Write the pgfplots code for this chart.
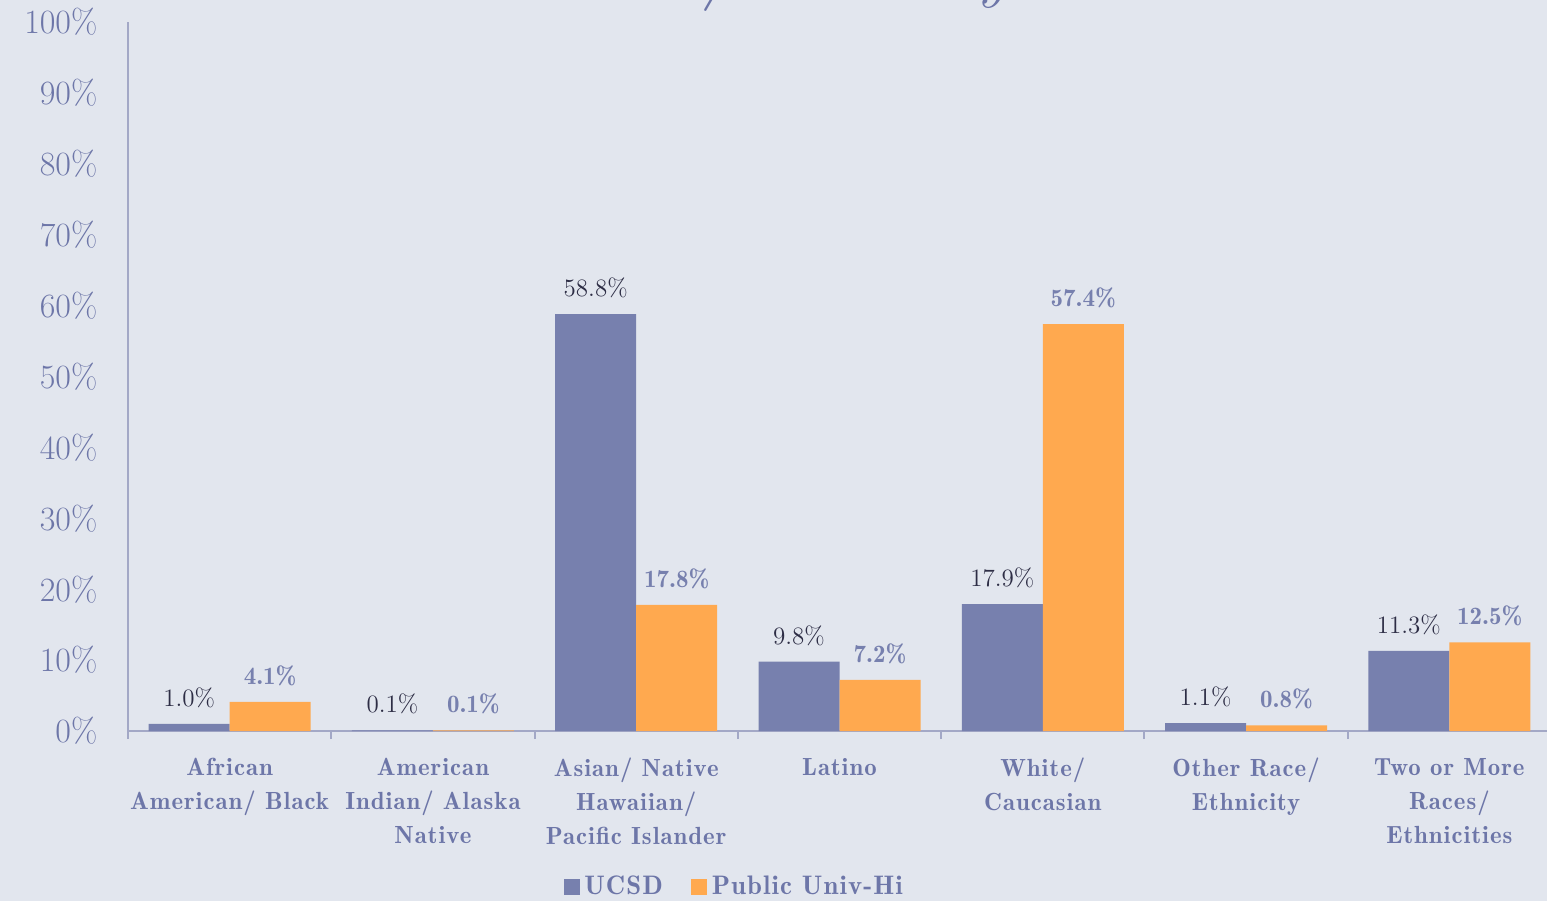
\documentclass[border=0pt]{standalone}
\usepackage{fontspec}
\newfontfamily\demi[Extension=.otf, UprightFont=*-regular, LetterSpace=4]{lmromandemi10}
\newfontfamily\demiplain[Extension=.otf, UprightFont=*-regular]{lmromandemi10}
\usepackage{pgfplots}
\pgfplotsset{compat=1.18}
\definecolor{bg}{HTML}{E2E6EE}
\definecolor{ucsd}{HTML}{7780AE}
\definecolor{pub}{HTML}{FFA94F}
\definecolor{txt}{HTML}{6D76A8}
\definecolor{dark}{HTML}{2D2D45}
\definecolor{axisc}{HTML}{A3A8C6}
\begin{document}
\begin{tikzpicture}
\fill[bg] (0,0) rectangle (773.5pt,450.5pt);
\useasboundingbox (0,0) rectangle (773.5pt,450.5pt);
\node[anchor=base west, text=txt, font=\fontsize{32}{38}\selectfont\itshape, inner sep=0pt] at (287pt,452.5pt) {Race/ Ethnicity};
\begin{axis}[
  at={(64pt,85pt)}, anchor=south west,
  scale only axis, width=711.5pt, height=354.5pt,
  xmin=-0.5, xmax=6.5, ymin=0, ymax=100,
  ybar=0pt, bar width=40.5pt,
  axis x line*=bottom, axis y line*=left,
  axis line style={axisc, line width=1pt},
  tick align=outside,
  major tick length=0pt,
  minor tick length=4pt,
  minor x tick style={axisc, line width=1pt},
  xtick={0,...,6},
  minor xtick={-0.5,0.5,...,6.5},
  xticklabels={{African\\American/ Black},{American\\Indian/ Alaska\\Native},{Asian/ Native\\Hawaiian/\\Pacific Islander},{Latino},{White/\\Caucasian},{Other Race/\\Ethnicity},{Two or More\\Races/\\Ethnicities}},
  xticklabel style={align=center, text=txt, yshift=-10pt, font=\demi\fontsize{12.4}{17}\selectfont},
  ytick={0,10,...,100},
  yticklabels={0\%,10\%,20\%,30\%,40\%,50\%,60\%,70\%,80\%,90\%,100\%},
  yticklabel style={text=txt, font=\fontsize{17}{17}\selectfont, xshift=-11.8pt},
  nodes near coords={\pgfmathprintnumber[fixed,precision=1,fixed zerofill,assume math mode=true]{\pgfplotspointmeta}\%},
  legend style={at={(0.427,-0.22)}, anchor=center, draw=none, fill=none,
    legend columns=2, text=txt,
    font=\demi\fontsize{13.4}{13}\selectfont,
    nodes={inner sep=2.2pt},
    /tikz/every even column/.append style={column sep=12pt}},
  legend image code/.code={\fill[#1] (0pt,-4pt) rectangle (8pt,4pt);},
]
\addplot[fill=ucsd, draw=none, nodes near coords style={text=dark, font=\fontsize{12.5}{13}\selectfont, yshift=4.5pt}]
  coordinates {(0,1.0) (1,0.1) (2,58.8) (3,9.8) (4,17.9) (5,1.1) (6,11.3)};
\addplot[fill=pub, draw=none, nodes near coords style={text=ucsd, font=\demiplain\fontsize{12.5}{13}\selectfont, yshift=4.5pt}]
  coordinates {(0,4.1) (1,0.1) (2,17.8) (3,7.2) (4,57.4) (5,0.8) (6,12.5)};
\legend{UCSD, Public Univ-Hi}
\end{axis}
\end{tikzpicture}
\end{document}
